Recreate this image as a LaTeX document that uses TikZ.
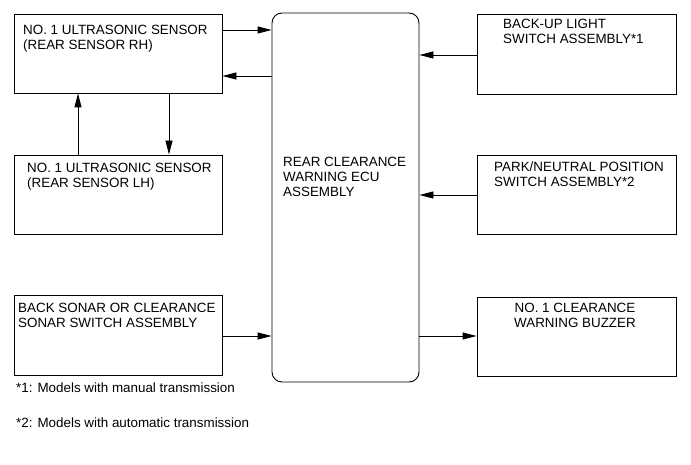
\documentclass[tikz,border=0pt]{standalone}
\usepackage{fontspec}
\setmainfont{Liberation Sans}
\usetikzlibrary{arrows.meta}
\begin{document}
\begin{tikzpicture}[x=1pt,y=-1pt,
  box/.style={draw,line width=0.9pt,inner sep=0pt},
  txt/.style={anchor=north west,inner sep=0pt,align=left,font=\fontsize{13.4}{15}\selectfont},
  conn/.style={line width=0.9pt,-{Triangle[length=14pt,width=7pt]}}]
\useasboundingbox (0,0) rectangle (691,465);
% boxes
\node[box,minimum width=208pt,minimum height=79pt] (rh) at (118,53.5) {};
\node[box,minimum width=208pt,minimum height=79pt] (lh) at (118,194.5) {};
\node[box,minimum width=208pt,minimum height=80pt] (sonar) at (118,335) {};
\node[box,rounded corners=10pt,minimum width=147pt,minimum height=369pt] (ecu) at (345.5,197.5) {};
\node[box,minimum width=199pt,minimum height=80pt] (backup) at (576.5,54) {};
\node[box,minimum width=199pt,minimum height=79pt] (park) at (576.5,194.5) {};
\node[box,minimum width=199pt,minimum height=79pt] (buzzer) at (576.5,336.5) {};
% texts
\node[txt] (trh) at (23,25) {NO. 1 ULTRASONIC SENSOR\\(REAR SENSOR RH)};
\node[txt] (tlh) at (27,163) {NO. 1 ULTRASONIC SENSOR\\(REAR SENSOR LH)};
\node[txt] (tsonar) at (18,303) {BACK SONAR OR CLEARANCE\\SONAR SWITCH ASSEMBLY};
\node[txt] (tecu) at (283,157) {REAR CLEARANCE\\WARNING ECU\\ASSEMBLY};
\node[txt] (tbackup) at (503,19) {BACK-UP LIGHT\\SWITCH ASSEMBLY*1};
\node[txt] (tpark) at (494,162) {PARK/NEUTRAL POSITION\\SWITCH ASSEMBLY*2};
\node[txt,align=center,anchor=north] (tbuzzer) at (575,303) {NO. 1 CLEARANCE\\WARNING BUZZER};
\node[txt] (n1) at (16,383) {*1: Models with manual transmission};
\node[txt] (n2) at (16,418) {*2: Models with automatic transmission};
% connectors
\draw[conn] (rh.east |- 0,30) -- (ecu.west |- 0,30);
\draw[conn] (ecu.west |- 0,76) -- (rh.east |- 0,76);
\draw[conn] (lh.north -| 78,0) -- (rh.south -| 78,0);
\draw[conn] (rh.south -| 169,0) -- (lh.north -| 169,0);
\draw[conn] (backup.west |- 0,55) -- (ecu.east |- 0,55);
\draw[conn] (park.west |- 0,195) -- (ecu.east |- 0,195);
\draw[conn] (sonar.east |- 0,336) -- (ecu.west |- 0,336);
\draw[conn] (ecu.east |- 0,336) -- (buzzer.west |- 0,336);
\end{tikzpicture}
\end{document}
